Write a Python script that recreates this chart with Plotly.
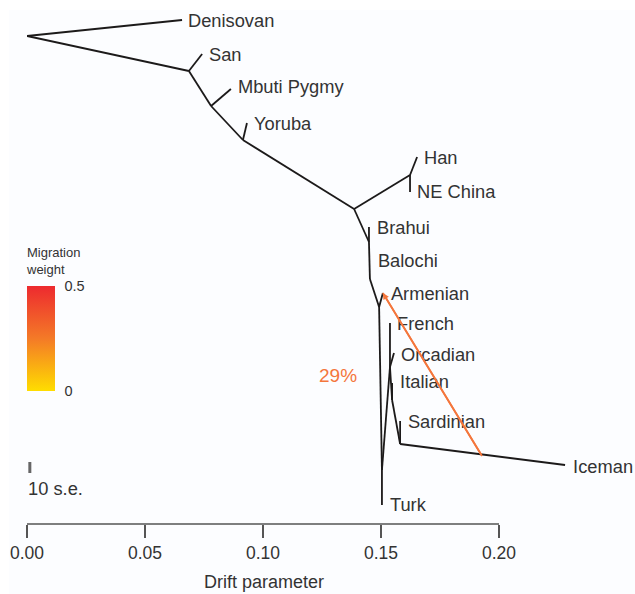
import plotly.graph_objects as go

# tree nodes: drift value and vertical position in the tree drawing
node_names = ["root", "denisovan", "n_san", "san", "n_mbuti", "mbuti", "n_yoruba", "yoruba",
              "n_asia", "n_han", "han", "ne_china", "n_brahui", "brahui", "n_balochi",
              "n_armenian", "armenian", "n_turk", "turk", "n_europe", "french", "orcadian",
              "n_italian", "italian", "n_sardinian", "sardinian", "iceman"]
node_drift = [0.0, 0.0657, 0.0686, 0.0742, 0.0780, 0.0864, 0.0915, 0.0932,
              0.1386, 0.1623, 0.1653, 0.1623, 0.1449, 0.1449, 0.1453,
              0.1492, 0.1508, 0.1504, 0.1504, 0.1538, 0.1538, 0.1555,
              0.1547, 0.1547, 0.1581, 0.1581, 0.2280]
node_pos = [36, 20, 71, 54, 106, 89, 140, 123,
            209, 175, 157, 192, 242, 227, 279,
            307, 293, 470, 505, 367, 323, 353,
            400, 383, 444, 421, 465]

edges = [("root", "denisovan"), ("root", "n_san"), ("n_san", "san"), ("n_san", "n_mbuti"),
         ("n_mbuti", "mbuti"), ("n_mbuti", "n_yoruba"), ("n_yoruba", "yoruba"),
         ("n_yoruba", "n_asia"), ("n_asia", "n_han"), ("n_han", "han"), ("n_han", "ne_china"),
         ("n_asia", "n_brahui"), ("n_brahui", "brahui"), ("n_brahui", "n_balochi"),
         ("n_balochi", "n_armenian"), ("n_armenian", "armenian"), ("n_armenian", "n_turk"),
         ("n_turk", "turk"), ("n_turk", "n_europe"), ("n_europe", "french"),
         ("n_europe", "orcadian"), ("n_europe", "n_italian"), ("n_italian", "italian"),
         ("n_italian", "n_sardinian"), ("n_sardinian", "sardinian"), ("n_sardinian", "iceman")]

labels = ["Denisovan", "San", "Mbuti Pygmy", "Yoruba", "Han", "NE China", "Brahui", "Balochi",
          "Armenian", "French", "Orcadian", "Italian", "Sardinian", "Iceman", "Turk"]
label_drift = [0.0682, 0.0771, 0.0894, 0.0962, 0.1682, 0.1653, 0.1483, 0.1487,
               0.1542, 0.1568, 0.1585, 0.1581, 0.1614, 0.2314, 0.1538]
label_pos = [22, 56, 88, 125, 159, 193, 229, 262, 295, 325, 356, 383, 423, 468, 506]

# migration edge, from the Iceman branch to Armenian
migration_from = (0.1928, 456)
migration_to = (0.1508, 293)
migration_label = "29%"

ticks = [0.0, 0.05, 0.10, 0.15, 0.20]
tick_text = ["0.00", "0.05", "0.10", "0.15", "0.20"]
weight_scale = [0, 0.5]

pos = dict(zip(node_names, zip(node_drift, node_pos)))
tree_x = []
tree_y = []
for a, b in edges:
    tree_x += [pos[a][0], pos[b][0], None]
    tree_y += [pos[a][1], pos[b][1], None]

fig = go.Figure()

# faint tint of the scanned page
fig.add_shape(type="rect", xref="paper", yref="paper", x0=9 / 635, x1=1, y0=0, y1=584 / 594,
              fillcolor="#fcfdff", line_width=0, layer="below")

fig.add_trace(go.Scatter(x=tree_x, y=tree_y, mode="lines",
                         line=dict(color="#1c1a1a", width=1.8), hoverinfo="skip"))
fig.add_trace(go.Scatter(x=label_drift, y=label_pos, mode="text", text=labels,
                         textposition="middle right", cliponaxis=False,
                         textfont=dict(size=18.3, color="#333333")))
fig.add_trace(go.Scatter(x=[migration_from[0], migration_to[0]], y=[migration_from[1], migration_to[1]],
                         mode="lines", line=dict(color="#f4763c", width=1.8)))

# scale bar of 10 standard errors
fig.add_trace(go.Scatter(x=[0.0012, 0.0012], y=[462, 473], mode="lines",
                         line=dict(color="#666666", width=3)))

# only there to get the colour bar
fig.add_trace(go.Scatter(x=[None, None], y=[None, None], mode="markers",
                         marker=dict(color=weight_scale, cmin=0, cmax=0.5,
                                     colorscale=[[0, "#ffdd00"], [0.5, "#f47a27"], [1, "#ed2a2f"]],
                                     showscale=True,
                                     colorbar=dict(x=27 / 635, xanchor="left", xpad=0,
                                                   y=203 / 594, yanchor="bottom", ypad=0,
                                                   lenmode="pixels", len=105,
                                                   thicknessmode="pixels", thickness=28,
                                                   outlinewidth=0, tickvals=weight_scale,
                                                   ticktext=["0", "0.5"], ticks="outside",
                                                   ticklen=7, tickcolor="rgba(0,0,0,0)",
                                                   tickfont=dict(size=14.5, color="#333333")))))

fig.add_annotation(x=migration_to[0], y=migration_to[1], ax=migration_from[0], ay=migration_from[1],
                   xref="x", yref="y", axref="x", ayref="y", text="", showarrow=True,
                   arrowhead=2, arrowsize=0.7, arrowwidth=1.8, arrowcolor="#f4763c")
fig.add_annotation(x=0.1316, y=375, text=migration_label, showarrow=False,
                   font=dict(size=19, color="#f4763c"))
fig.add_annotation(xref="paper", yref="y", x=24 / 635, y=261, xanchor="left", text="Migration<br>weight",
                   showarrow=False, align="left", font=dict(size=13, color="#333333"))
fig.add_annotation(x=0.0008, y=488, xanchor="left", text="10 s.e.", showarrow=False, xshift=-3,
                   font=dict(size=18.3, color="#333333"))
fig.add_annotation(x=0.1003, y=582, text="Drift parameter", showarrow=False,
                   font=dict(size=18, color="#333333"))

fig.add_shape(type="line", x0=0, x1=0.20, y0=524, y1=524, line=dict(color="#555555", width=1.5))

fig.update_layout(width=635, height=594, margin=dict(l=0, r=0, t=0, b=0, autoexpand=False),
                  paper_bgcolor="#ffffff", plot_bgcolor="rgba(0,0,0,0)", showlegend=False,
                  font=dict(family="Liberation Sans, Arial, sans-serif"),
                  xaxis=dict(domain=[27 / 635, 1], range=[0, 608 / 2360], anchor="free",
                             position=70 / 594, tickvals=ticks, ticktext=tick_text,
                             ticks="outside", ticklen=13, tickcolor="#555555", tickwidth=1.5,
                             tickfont=dict(size=17.5, color="#333333"), showgrid=False,
                             zeroline=False, showline=False),
                  yaxis=dict(domain=[0, 1], range=[594, 0], visible=False, showgrid=False))

fig.write_html("out.html", config={"displayModeBar": False},
               post_script="document.body.style.margin = '0';")
